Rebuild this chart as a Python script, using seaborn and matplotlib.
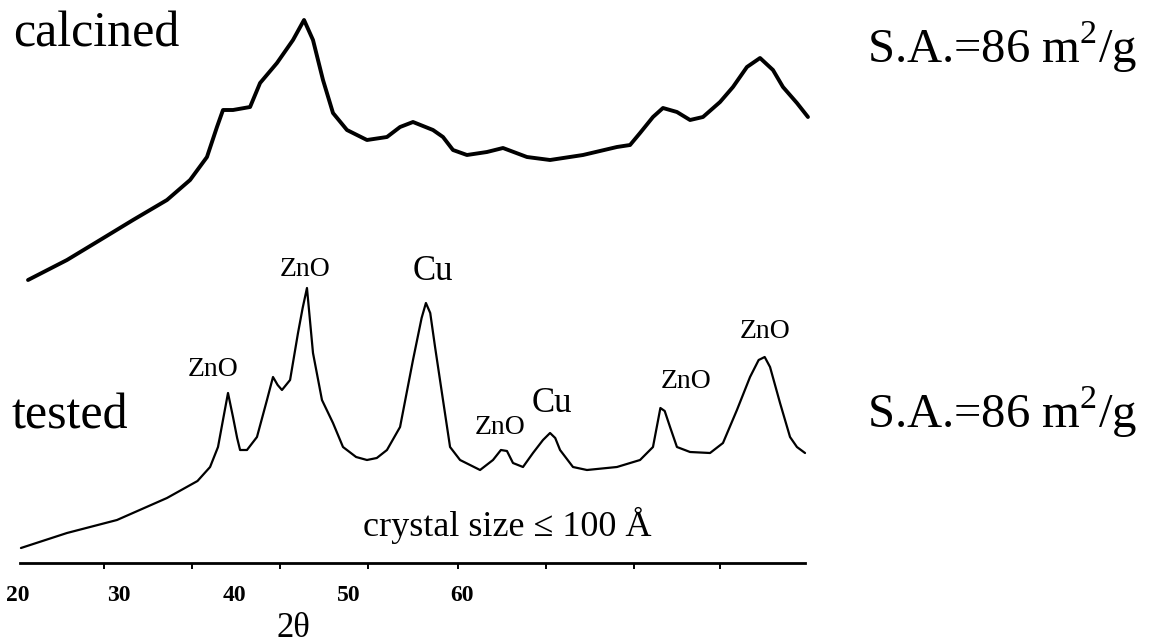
import numpy as np
import pandas as pd
import seaborn as sns
import matplotlib.pyplot as plt

sns.set_style("white")
plt.rcParams['font.family'] = ['Liberation Serif', 'DejaVu Serif']
plt.rcParams['text.color'] = 'black'
plt.rcParams['xtick.color'] = 'black'
plt.rcParams['axes.labelcolor'] = 'black'
plt.rcParams['mathtext.fontset'] = 'custom'
plt.rcParams['mathtext.rm'] = 'Liberation Serif'

# XRD patterns, 2theta (deg) vs intensity (arbitrary units)
calc_2theta = [20.17, 22.43, 24.35, 26.26, 28.23, 29.57, 30.55, 31.13, 31.48, 32.06,
               33.05, 33.63, 34.61, 35.54, 36.18, 36.70, 37.28, 37.86, 38.67, 39.83,
               40.99, 41.75, 42.50, 43.66, 44.24, 44.82, 45.63, 46.79, 47.72, 49.11,
               50.45, 52.36, 54.33, 55.09, 55.67, 56.42, 57.00, 57.81, 58.57, 59.32,
               60.31, 61.06, 61.87, 62.63, 63.38, 63.96, 64.77, 65.41]
calc_int = [283, 303, 323, 343, 363, 383, 406, 436, 453, 453,
            456, 480, 500, 523, 543, 523, 483, 450, 433, 423,
            426, 436, 441, 433, 426, 413, 408, 411, 415, 406,
            403, 408, 416, 418, 430, 446, 455, 451, 443, 446,
            461, 476, 496, 505, 493, 476, 460, 446]

test_2theta = [19.76, 22.43, 25.33, 28.23, 30.00, 30.73, 31.19, 31.50, 31.77, 32.06,
               32.30, 32.47, 32.87, 33.45, 34.03, 34.38, 34.65, 34.90, 35.37, 35.83,
               36.10, 36.35, 36.70, 37.22, 37.86, 38.44, 39.20, 39.83, 40.40, 40.99,
               41.75, 42.50, 43.00, 43.25, 43.50, 43.78, 44.24, 44.65, 45.23, 46.39,
               47.14, 47.60, 47.95, 48.30, 48.88, 49.46, 50.04, 50.45, 50.75, 51.03,
               51.78, 52.59, 54.33, 55.67, 56.42, 56.85, 57.10, 57.41, 57.81, 58.57,
               59.73, 60.48, 61.29, 62.05, 62.55, 62.90, 63.21, 63.79, 64.37, 64.77,
               65.24]
test_int = [15, 30, 43, 65, 82, 96, 116, 145, 170, 146,
            125, 113, 113, 126, 163, 186, 178, 173, 183, 230,
            255, 275, 210, 163, 140, 116, 106, 103, 105, 113,
            136, 203, 245, 260, 250, 216, 163, 116, 103, 93,
            103, 113, 112, 100, 96, 110, 123, 130, 125, 113,
            96, 93, 96, 103, 116, 155, 152, 136, 116, 111,
            110, 120, 153, 186, 203, 206, 196, 160, 126, 116,
            110]

# peak labels
peak_names = ["ZnO", "ZnO", "Cu", "ZnO", "Cu", "ZnO", "ZnO"]
peak_x = [30.90, 36.24, 43.66, 47.55, 50.56, 58.34, 62.92]
peak_y = [193, 293, 291, 135, 159, 182, 232]
peak_size = [20, 20, 25, 20, 25, 20, 20]

# axis labels as printed on the scan
tick_label_pos = [19.59, 25.45, 32.12, 38.79, 45.34]
tick_labels = ["20", "30", "40", "50", "60"]
tick_marks = [24.6, 29.7, 34.8, 39.9, 45.1, 50.2, 55.3, 60.3]

df_c = pd.DataFrame({"two_theta": calc_2theta, "intensity": calc_int})
df_t = pd.DataFrame({"two_theta": test_2theta, "intensity": test_int})

fig = plt.figure(figsize=(11.52, 6.43), dpi=100)
ax = fig.add_axes([0, 80 / 643, 820 / 1152, 563 / 643])

sns.lineplot(data=df_c, x="two_theta", y="intensity", color="black", lw=2.8, ax=ax)
sns.lineplot(data=df_t, x="two_theta", y="intensity", color="black", lw=1.6, ax=ax)

ax.set_xlim(18.545, 66.108)
ax.set_ylim(0, 563)

for s in ["left", "top", "right"]:
    ax.spines[s].set_visible(False)
ax.spines["bottom"].set_bounds(19.7, 65.24)
ax.spines["bottom"].set_linewidth(2)
ax.spines["bottom"].set_color("black")
ax.set_yticks([])

ax.set_xticks(tick_label_pos, tick_labels, fontweight="bold", fontsize=17)
ax.set_xticks(tick_marks, minor=True)
ax.tick_params(axis="x", which="major", bottom=True, length=0, pad=16)
ax.tick_params(axis="x", which="minor", bottom=True, direction="out", length=4, width=1.4)

ax.set_xlabel("2θ", fontsize=25)
ax.set_ylabel("")
ax.xaxis.set_label_coords(293 / 820, -0.087)
ax.xaxis.label.set_va("top")

for name, x, y, fs in zip(peak_names, peak_x, peak_y, peak_size):
    ax.text(x, y, name, fontsize=fs, ha="center", va="center")

ax.text(47.95, 38, "crystal size ≤ 100 Å", fontsize=26, ha="center", va="center")

ax.text(19.30, 529, "calcined", fontsize=36, ha="left", va="center")
ax.text(19.24, 147, "tested", fontsize=36, ha="left", va="center")
ax.text(68.84, 516, "S.A.=86 m$^{2}$/g", fontsize=35, ha="left", va="center")
ax.text(68.84, 151, "S.A.=86 m$^{2}$/g", fontsize=35, ha="left", va="center")

fig.savefig("out.png", dpi=100)
